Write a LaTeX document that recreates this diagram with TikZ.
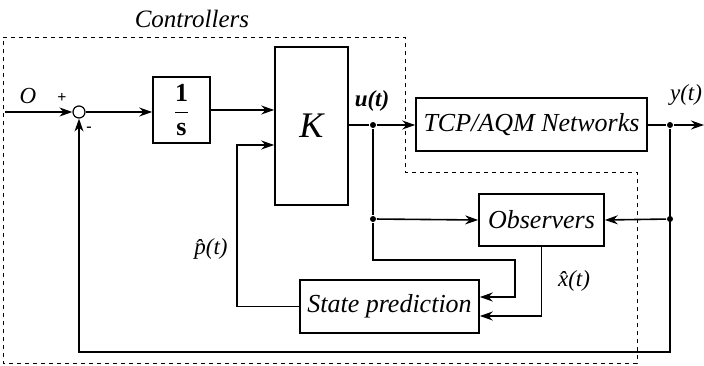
\documentclass[tikz,border=0pt]{standalone}
\usepackage{fontspec}
\setmainfont{Liberation Serif}
\usetikzlibrary{arrows.meta}

\begin{document}
\begin{tikzpicture}[x=1pt, y=-1pt, line width=1.6pt,
    >={Stealth[length=13pt,width=9pt]},
    block/.style={draw, rectangle, inner sep=0pt, font=\fontsize{26}{30}\selectfont\itshape},
    lbl/.style={font=\fontsize{23}{26}\selectfont\itshape},
    jn/.style={circle, fill, inner sep=0pt, minimum size=6pt}]
    \useasboundingbox (0,0) rectangle (704,366);

    % Controller boundary
    \draw[line width=0.9pt, dash pattern=on 4pt off 4pt] (3,37) -- (405,37) -- (405,172) -- (637,172) -- (637,363) -- (3,363) -- cycle;
    \node[font=\fontsize{25}{28}\selectfont\itshape] (title) at (192,19) {Controllers};

    % Blocks
    \node[draw, circle, inner sep=0pt, minimum size=12pt, line width=1.2pt] (sum) at (79,112) {};
    \node[block, minimum width=57pt, minimum height=66pt, font=\fontsize{26}{30}\selectfont] (integ) at (181.5,110) {$\displaystyle\frac{\textbf{1}}{\textbf{s}}$};
    \node[block, minimum width=73pt, minimum height=158pt, font=\fontsize{36}{40}\selectfont\itshape] (ctrl) at (311.5,126) {K};
    \node[block, minimum width=231pt, minimum height=53pt] (net) at (531.5,124.5) {TCP/AQM Networks};
    \node[block, minimum width=125pt, minimum height=52pt] (obs) at (541.5,220) {Observers};
    \node[block, minimum width=179pt, minimum height=53pt] (pred) at (389.5,306.5) {State prediction};

    % Branch points
    \node[jn] (uj) at (373,125) {};
    \node[jn] (yj) at (670,125) {};
    \node[jn] (uo) at (373,219) {};
    \node[jn] (yo) at (670,219) {};
    \coordinate (src) at (5,112);
    \coordinate (sink) at (704,125);
    \coordinate (fb) at (79,352);
    \coordinate (ubend) at (515,260);
    \coordinate (pbend) at (237,145);

    % Signals
    \draw[->] (src) -- (sum.west);
    \draw[->] (sum.east) -- (sum.east -| integ.west);
    \draw[->] (integ.east) -- (integ.east -| ctrl.west);
    \draw (ctrl.east |- uj) -- (uj);
    \draw[->] (uj) -- (uj -| net.west);
    \draw (net.east |- yj) -- (yj);
    \draw[->] (yj) -- (sink);
    \draw[->] (yj) |- (fb) -- (sum.south);
    \draw[->] (yo) -- (obs.east);
    \draw (uj) -- (uo);
    \draw[->] (uo) -- (obs.west);
    \draw[->] (uo) |- (ubend) |- ([yshift=9.5pt]pred.east);
    \draw[->] (obs.south) |- ([yshift=-9.5pt]pred.east);
    \draw[->] (pred.west) -| (pbend) -- (pbend -| ctrl.west);

    % Labels
    \node[lbl] (olbl) at (28,96) {O};
    \node[font=\fontsize{16}{18}\selectfont\bfseries] (plus) at (62,98) {+};
    \node[font=\fontsize{16}{18}\selectfont\bfseries] (minus) at (89,129) {-};
    \node[lbl, font=\fontsize{23}{26}\selectfont\bfseries\itshape] (ulbl) at (372,101) {u(t)};
    \node[lbl] (ylbl) at (686,95) {y(t)};
    \node[lbl] (xlbl) at (574,281) {\^{x}(t)};
    \node[lbl] (plbl) at (211,249) {\^{p}(t)};
\end{tikzpicture}
\end{document}
